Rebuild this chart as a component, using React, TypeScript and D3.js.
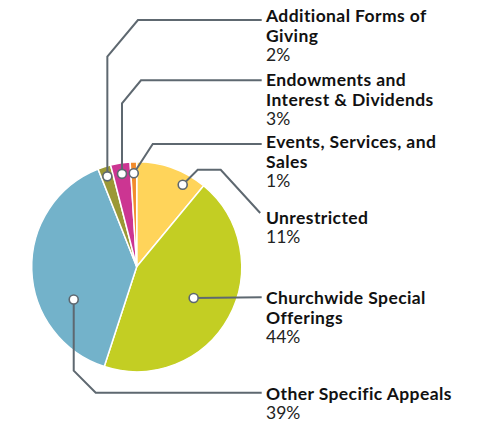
import React from 'react';
import * as d3 from 'd3';

// slices, clockwise from 12 o'clock
const categories = [
  ['Unrestricted'],
  ['Churchwide Special', 'Offerings'],
  ['Other Specific Appeals'],
  ['Additional Forms of', 'Giving'],
  ['Endowments and', 'Interest & Dividends'],
  ['Events, Services, and', 'Sales'],
];
const shares = [11, 44, 39, 2, 3, 1];
const colors = ['#FFD45A', '#C3CE23', '#73B2CA', '#9B9835', '#CC3592', '#F28C2C'];

// label placement (first-line baseline, leader y) and leader routing
const labelBaseline = [224, 304, 400, 22, 86, 148];
const leaderY = [213, 297.3, 392.7, 20, 80.3, 144];
const dotPos = [
  { t: 0.74, r: 94 },
  { t: 0.5, r: 65 },
  { t: 0.317, r: 71 },
  { t: 0.5, r: 95 },
  { t: 0.5, r: 94 },
  { t: 0.5, r: 93.5 },
];

const W = 495;
const H = 425;
const cx = 136.7;
const cy = 266.7;
const R = 105;
const labelX = 266;
const lineEnd = 261.7;

const App: React.FC = () => {
  const pie = d3.pie<number>().sort(null).value(d => d);
  const arcs = pie(shares);
  const arc = d3.arc<d3.PieArcDatum<number>>().innerRadius(0).outerRadius(R);
  const line = d3.line();

  const leaders = arcs.map((a, i) => {
    const ang = a.startAngle + (a.endAngle - a.startAngle) * dotPos[i].t;
    const dx = cx + Math.sin(ang) * dotPos[i].r;
    const dy = cy - Math.cos(ang) * dotPos[i].r;
    const ly = leaderY[i];
    let pts: [number, number][];
    if (i === 0) {
      // up-right, across, then down to label
      const kneeY = dy - 15;
      pts = [[dx, dy], [dx + 15, kneeY], [dx + 38, kneeY], [lineEnd - 1.5, ly]];
    } else if (i === 1) {
      pts = [[dx, dy], [lineEnd, ly]];
    } else if (i === 2) {
      const diag = ly - 370.7;
      pts = [[dx, dy], [dx, ly - diag], [dx + diag, ly], [lineEnd, ly]];
    } else if (i === 5) {
      pts = [[dx, dy], [dx + 19, ly], [lineEnd, ly]];
    } else {
      const run = i === 3 ? 30.6 : 19;
      const rise = i === 3 ? 36.7 : 23;
      pts = [[dx, dy], [dx, ly + rise], [dx + run, ly], [lineEnd, ly]];
    }
    return { pts, dx, dy };
  });

  return (
    <svg width={W} height={H} style={{ position: 'absolute', left: 0, top: 0 }}
      fontFamily="Lato, 'Open Sans', sans-serif">
      <g>
        {arcs.map((a, i) => (
          <path key={i} d={arc(a) || ''} transform={`translate(${cx},${cy})`}
            fill={colors[i]} stroke="#fff" strokeWidth={1.5} />
        ))}
      </g>
      <g>
        {leaders.map((l, i) => (
          <g key={i}>
            <path d={line(l.pts) || ''} fill="none" stroke="#5E6870" strokeWidth={2}
              strokeLinejoin="miter" />
            <circle cx={l.dx} cy={l.dy} r={4.5} fill="#fff" stroke="#5E6870" strokeWidth={1.6} />
          </g>
        ))}
      </g>
      <g>
        {categories.map((names, i) => (
          <text key={i} x={labelX} y={labelBaseline[i]} fontSize={17.5}>
            {names.map((n, j) => (
              <tspan key={j} x={labelX} dy={j === 0 ? 0 : 20} fontWeight={700} fill="#111"
                letterSpacing={0.4}>{n}</tspan>
            ))}
            <tspan x={labelX} dy={19} fill="#222">{`${shares[i]}%`}</tspan>
          </text>
        ))}
      </g>
    </svg>
  );
};

export default App;
